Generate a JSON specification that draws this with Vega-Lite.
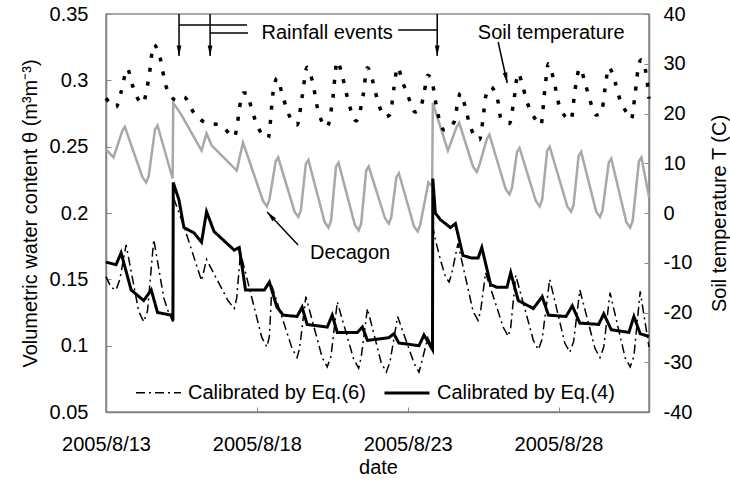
{
  "$schema": "https://vega.github.io/schema/vega-lite/v6.json",
  "width": 543,
  "height": 398,
  "autosize": {"type": "none"},
  "padding": {"left": 106, "top": 14, "right": 81, "bottom": 68},
  "config": {
    "view": {"stroke": "#8c8c8c", "strokeWidth": 1.5},
    "font": "Liberation Sans",
    "axis": {
      "labelFont": "Liberation Sans", "titleFont": "Liberation Sans",
      "labelFontSize": 20, "titleFontSize": 20, "titleFontWeight": "normal",
      "labelColor": "black", "titleColor": "black", "grid": false,
      "tickSize": -5, "tickColor": "#888", "domainColor": "#808080", "domainWidth": 1.5,
      "labelFlush": false, "labelOverlap": false
    }
  },
  "datasets": {
    "sm": [
      {"s":"Decagon","t":"2005-08-13T00:00","v":0.248},
      {"s":"Decagon","t":"2005-08-13T06:00","v":0.242},
      {"s":"Decagon","t":"2005-08-13T13:00","v":0.262},
      {"s":"Decagon","t":"2005-08-13T15:00","v":0.265},
      {"s":"Decagon","t":"2005-08-14T05:00","v":0.227},
      {"s":"Decagon","t":"2005-08-14T08:00","v":0.223},
      {"s":"Decagon","t":"2005-08-14T10:00","v":0.228},
      {"s":"Decagon","t":"2005-08-14T15:00","v":0.263},
      {"s":"Decagon","t":"2005-08-14T17:00","v":0.266},
      {"s":"Decagon","t":"2005-08-15T05:00","v":0.226},
      {"s":"Decagon","t":"2005-08-15T05:30","v":0.283},
      {"s":"Decagon","t":"2005-08-15T12:00","v":0.274},
      {"s":"Decagon","t":"2005-08-16T04:00","v":0.247},
      {"s":"Decagon","t":"2005-08-16T08:00","v":0.260},
      {"s":"Decagon","t":"2005-08-16T12:00","v":0.251},
      {"s":"Decagon","t":"2005-08-17T08:00","v":0.232},
      {"s":"Decagon","t":"2005-08-17T13:00","v":0.253},
      {"s":"Decagon","t":"2005-08-18T05:00","v":0.209},
      {"s":"Decagon","t":"2005-08-18T08:00","v":0.205},
      {"s":"Decagon","t":"2005-08-18T10:00","v":0.210},
      {"s":"Decagon","t":"2005-08-18T15:00","v":0.239},
      {"s":"Decagon","t":"2005-08-18T17:00","v":0.242},
      {"s":"Decagon","t":"2005-08-19T06:00","v":0.201},
      {"s":"Decagon","t":"2005-08-19T09:00","v":0.197},
      {"s":"Decagon","t":"2005-08-19T11:00","v":0.202},
      {"s":"Decagon","t":"2005-08-19T15:00","v":0.237},
      {"s":"Decagon","t":"2005-08-19T17:00","v":0.240},
      {"s":"Decagon","t":"2005-08-20T06:00","v":0.193},
      {"s":"Decagon","t":"2005-08-20T09:00","v":0.189},
      {"s":"Decagon","t":"2005-08-20T11:00","v":0.194},
      {"s":"Decagon","t":"2005-08-20T15:00","v":0.235},
      {"s":"Decagon","t":"2005-08-20T17:00","v":0.238},
      {"s":"Decagon","t":"2005-08-21T06:00","v":0.191},
      {"s":"Decagon","t":"2005-08-21T09:00","v":0.187},
      {"s":"Decagon","t":"2005-08-21T11:00","v":0.192},
      {"s":"Decagon","t":"2005-08-21T15:00","v":0.232},
      {"s":"Decagon","t":"2005-08-21T17:00","v":0.235},
      {"s":"Decagon","t":"2005-08-22T06:00","v":0.196},
      {"s":"Decagon","t":"2005-08-22T09:00","v":0.192},
      {"s":"Decagon","t":"2005-08-22T11:00","v":0.197},
      {"s":"Decagon","t":"2005-08-22T15:00","v":0.227},
      {"s":"Decagon","t":"2005-08-22T17:00","v":0.230},
      {"s":"Decagon","t":"2005-08-23T05:00","v":0.190},
      {"s":"Decagon","t":"2005-08-23T08:00","v":0.186},
      {"s":"Decagon","t":"2005-08-23T10:00","v":0.191},
      {"s":"Decagon","t":"2005-08-23T16:30","v":0.223},
      {"s":"Decagon","t":"2005-08-23T19:30","v":0.220},
      {"s":"Decagon","t":"2005-08-23T20:00","v":0.283},
      {"s":"Decagon","t":"2005-08-24T08:00","v":0.247},
      {"s":"Decagon","t":"2005-08-24T15:00","v":0.265},
      {"s":"Decagon","t":"2005-08-24T17:00","v":0.268},
      {"s":"Decagon","t":"2005-08-25T04:00","v":0.235},
      {"s":"Decagon","t":"2005-08-25T07:00","v":0.231},
      {"s":"Decagon","t":"2005-08-25T09:00","v":0.236},
      {"s":"Decagon","t":"2005-08-25T15:00","v":0.256},
      {"s":"Decagon","t":"2005-08-25T17:00","v":0.259},
      {"s":"Decagon","t":"2005-08-26T06:00","v":0.218},
      {"s":"Decagon","t":"2005-08-26T09:00","v":0.214},
      {"s":"Decagon","t":"2005-08-26T11:00","v":0.219},
      {"s":"Decagon","t":"2005-08-26T15:00","v":0.246},
      {"s":"Decagon","t":"2005-08-26T17:00","v":0.249},
      {"s":"Decagon","t":"2005-08-27T06:00","v":0.209},
      {"s":"Decagon","t":"2005-08-27T09:00","v":0.205},
      {"s":"Decagon","t":"2005-08-27T11:00","v":0.210},
      {"s":"Decagon","t":"2005-08-27T15:00","v":0.247},
      {"s":"Decagon","t":"2005-08-27T17:00","v":0.250},
      {"s":"Decagon","t":"2005-08-28T07:00","v":0.205},
      {"s":"Decagon","t":"2005-08-28T10:00","v":0.201},
      {"s":"Decagon","t":"2005-08-28T12:00","v":0.206},
      {"s":"Decagon","t":"2005-08-28T16:00","v":0.243},
      {"s":"Decagon","t":"2005-08-28T18:00","v":0.246},
      {"s":"Decagon","t":"2005-08-29T06:00","v":0.201},
      {"s":"Decagon","t":"2005-08-29T09:00","v":0.197},
      {"s":"Decagon","t":"2005-08-29T11:00","v":0.202},
      {"s":"Decagon","t":"2005-08-29T16:00","v":0.238},
      {"s":"Decagon","t":"2005-08-29T18:00","v":0.241},
      {"s":"Decagon","t":"2005-08-30T06:00","v":0.193},
      {"s":"Decagon","t":"2005-08-30T09:00","v":0.189},
      {"s":"Decagon","t":"2005-08-30T11:00","v":0.194},
      {"s":"Decagon","t":"2005-08-30T16:00","v":0.239},
      {"s":"Decagon","t":"2005-08-30T18:00","v":0.242},
      {"s":"Decagon","t":"2005-08-31T00:00","v":0.212},

      {"s":"Calibrated by Eq.(6)","t":"2005-08-13T00:00","v":0.152},
      {"s":"Calibrated by Eq.(6)","t":"2005-08-13T04:00","v":0.144},
      {"s":"Calibrated by Eq.(6)","t":"2005-08-13T08:00","v":0.142},
      {"s":"Calibrated by Eq.(6)","t":"2005-08-13T11:00","v":0.150},
      {"s":"Calibrated by Eq.(6)","t":"2005-08-13T16:00","v":0.176},
      {"s":"Calibrated by Eq.(6)","t":"2005-08-14T02:00","v":0.126},
      {"s":"Calibrated by Eq.(6)","t":"2005-08-14T06:00","v":0.118},
      {"s":"Calibrated by Eq.(6)","t":"2005-08-14T09:00","v":0.126},
      {"s":"Calibrated by Eq.(6)","t":"2005-08-14T14:00","v":0.180},
      {"s":"Calibrated by Eq.(6)","t":"2005-08-14T22:00","v":0.136},
      {"s":"Calibrated by Eq.(6)","t":"2005-08-15T01:00","v":0.127},
      {"s":"Calibrated by Eq.(6)","t":"2005-08-15T05:15","v":0.118},
      {"s":"Calibrated by Eq.(6)","t":"2005-08-15T05:30","v":0.212},
      {"s":"Calibrated by Eq.(6)","t":"2005-08-15T14:00","v":0.190},
      {"s":"Calibrated by Eq.(6)","t":"2005-08-16T04:00","v":0.149},
      {"s":"Calibrated by Eq.(6)","t":"2005-08-16T08:00","v":0.165},
      {"s":"Calibrated by Eq.(6)","t":"2005-08-17T01:00","v":0.134},
      {"s":"Calibrated by Eq.(6)","t":"2005-08-17T06:00","v":0.128},
      {"s":"Calibrated by Eq.(6)","t":"2005-08-17T08:00","v":0.136},
      {"s":"Calibrated by Eq.(6)","t":"2005-08-17T11:00","v":0.170},
      {"s":"Calibrated by Eq.(6)","t":"2005-08-18T04:00","v":0.106},
      {"s":"Calibrated by Eq.(6)","t":"2005-08-18T08:00","v":0.099},
      {"s":"Calibrated by Eq.(6)","t":"2005-08-18T10:00","v":0.107},
      {"s":"Calibrated by Eq.(6)","t":"2005-08-18T12:00","v":0.145},
      {"s":"Calibrated by Eq.(6)","t":"2005-08-19T04:00","v":0.098},
      {"s":"Calibrated by Eq.(6)","t":"2005-08-19T08:00","v":0.091},
      {"s":"Calibrated by Eq.(6)","t":"2005-08-19T10:00","v":0.098},
      {"s":"Calibrated by Eq.(6)","t":"2005-08-19T15:00","v":0.137},
      {"s":"Calibrated by Eq.(6)","t":"2005-08-20T04:00","v":0.091},
      {"s":"Calibrated by Eq.(6)","t":"2005-08-20T08:00","v":0.084},
      {"s":"Calibrated by Eq.(6)","t":"2005-08-20T11:00","v":0.092},
      {"s":"Calibrated by Eq.(6)","t":"2005-08-20T16:00","v":0.133},
      {"s":"Calibrated by Eq.(6)","t":"2005-08-21T05:00","v":0.090},
      {"s":"Calibrated by Eq.(6)","t":"2005-08-21T09:00","v":0.083},
      {"s":"Calibrated by Eq.(6)","t":"2005-08-21T11:00","v":0.091},
      {"s":"Calibrated by Eq.(6)","t":"2005-08-21T16:00","v":0.128},
      {"s":"Calibrated by Eq.(6)","t":"2005-08-22T03:00","v":0.087},
      {"s":"Calibrated by Eq.(6)","t":"2005-08-22T07:00","v":0.080},
      {"s":"Calibrated by Eq.(6)","t":"2005-08-22T10:00","v":0.088},
      {"s":"Calibrated by Eq.(6)","t":"2005-08-22T16:00","v":0.122},
      {"s":"Calibrated by Eq.(6)","t":"2005-08-23T05:00","v":0.087},
      {"s":"Calibrated by Eq.(6)","t":"2005-08-23T09:00","v":0.080},
      {"s":"Calibrated by Eq.(6)","t":"2005-08-23T11:00","v":0.087},
      {"s":"Calibrated by Eq.(6)","t":"2005-08-23T16:00","v":0.106},
      {"s":"Calibrated by Eq.(6)","t":"2005-08-23T19:45","v":0.098},
      {"s":"Calibrated by Eq.(6)","t":"2005-08-23T20:00","v":0.190},
      {"s":"Calibrated by Eq.(6)","t":"2005-08-23T22:00","v":0.180},
      {"s":"Calibrated by Eq.(6)","t":"2005-08-24T02:00","v":0.165},
      {"s":"Calibrated by Eq.(6)","t":"2005-08-24T06:00","v":0.152},
      {"s":"Calibrated by Eq.(6)","t":"2005-08-24T09:00","v":0.148},
      {"s":"Calibrated by Eq.(6)","t":"2005-08-24T11:00","v":0.154},
      {"s":"Calibrated by Eq.(6)","t":"2005-08-24T16:00","v":0.177},
      {"s":"Calibrated by Eq.(6)","t":"2005-08-25T04:00","v":0.126},
      {"s":"Calibrated by Eq.(6)","t":"2005-08-25T08:00","v":0.119},
      {"s":"Calibrated by Eq.(6)","t":"2005-08-25T10:00","v":0.126},
      {"s":"Calibrated by Eq.(6)","t":"2005-08-25T14:00","v":0.155},
      {"s":"Calibrated by Eq.(6)","t":"2005-08-26T04:00","v":0.114},
      {"s":"Calibrated by Eq.(6)","t":"2005-08-26T08:00","v":0.107},
      {"s":"Calibrated by Eq.(6)","t":"2005-08-26T10:00","v":0.114},
      {"s":"Calibrated by Eq.(6)","t":"2005-08-26T14:00","v":0.153},
      {"s":"Calibrated by Eq.(6)","t":"2005-08-27T04:00","v":0.104},
      {"s":"Calibrated by Eq.(6)","t":"2005-08-27T08:00","v":0.097},
      {"s":"Calibrated by Eq.(6)","t":"2005-08-27T11:00","v":0.105},
      {"s":"Calibrated by Eq.(6)","t":"2005-08-27T17:00","v":0.150},
      {"s":"Calibrated by Eq.(6)","t":"2005-08-28T05:00","v":0.102},
      {"s":"Calibrated by Eq.(6)","t":"2005-08-28T09:00","v":0.095},
      {"s":"Calibrated by Eq.(6)","t":"2005-08-28T12:00","v":0.103},
      {"s":"Calibrated by Eq.(6)","t":"2005-08-28T17:00","v":0.142},
      {"s":"Calibrated by Eq.(6)","t":"2005-08-29T05:00","v":0.098},
      {"s":"Calibrated by Eq.(6)","t":"2005-08-29T09:00","v":0.091},
      {"s":"Calibrated by Eq.(6)","t":"2005-08-29T12:00","v":0.099},
      {"s":"Calibrated by Eq.(6)","t":"2005-08-29T17:00","v":0.140},
      {"s":"Calibrated by Eq.(6)","t":"2005-08-30T05:00","v":0.091},
      {"s":"Calibrated by Eq.(6)","t":"2005-08-30T09:00","v":0.084},
      {"s":"Calibrated by Eq.(6)","t":"2005-08-30T12:00","v":0.092},
      {"s":"Calibrated by Eq.(6)","t":"2005-08-30T17:00","v":0.141},
      {"s":"Calibrated by Eq.(6)","t":"2005-08-31T00:00","v":0.099},

      {"s":"Calibrated by Eq.(4)","t":"2005-08-13T00:00","v":0.163},
      {"s":"Calibrated by Eq.(4)","t":"2005-08-13T08:00","v":0.161},
      {"s":"Calibrated by Eq.(4)","t":"2005-08-13T12:00","v":0.170},
      {"s":"Calibrated by Eq.(4)","t":"2005-08-13T20:00","v":0.142},
      {"s":"Calibrated by Eq.(4)","t":"2005-08-14T06:00","v":0.134},
      {"s":"Calibrated by Eq.(4)","t":"2005-08-14T12:00","v":0.142},
      {"s":"Calibrated by Eq.(4)","t":"2005-08-14T17:00","v":0.125},
      {"s":"Calibrated by Eq.(4)","t":"2005-08-15T04:00","v":0.123},
      {"s":"Calibrated by Eq.(4)","t":"2005-08-15T05:15","v":0.119},
      {"s":"Calibrated by Eq.(4)","t":"2005-08-15T05:30","v":0.223},
      {"s":"Calibrated by Eq.(4)","t":"2005-08-15T10:00","v":0.210},
      {"s":"Calibrated by Eq.(4)","t":"2005-08-15T14:00","v":0.189},
      {"s":"Calibrated by Eq.(4)","t":"2005-08-15T22:00","v":0.185},
      {"s":"Calibrated by Eq.(4)","t":"2005-08-16T04:00","v":0.178},
      {"s":"Calibrated by Eq.(4)","t":"2005-08-16T08:00","v":0.201},
      {"s":"Calibrated by Eq.(4)","t":"2005-08-16T14:00","v":0.186},
      {"s":"Calibrated by Eq.(4)","t":"2005-08-17T06:00","v":0.172},
      {"s":"Calibrated by Eq.(4)","t":"2005-08-17T10:00","v":0.174},
      {"s":"Calibrated by Eq.(4)","t":"2005-08-17T15:00","v":0.142},
      {"s":"Calibrated by Eq.(4)","t":"2005-08-18T06:00","v":0.142},
      {"s":"Calibrated by Eq.(4)","t":"2005-08-18T10:00","v":0.148},
      {"s":"Calibrated by Eq.(4)","t":"2005-08-18T16:00","v":0.129},
      {"s":"Calibrated by Eq.(4)","t":"2005-08-18T21:00","v":0.123},
      {"s":"Calibrated by Eq.(4)","t":"2005-08-19T08:00","v":0.122},
      {"s":"Calibrated by Eq.(4)","t":"2005-08-19T12:00","v":0.129},
      {"s":"Calibrated by Eq.(4)","t":"2005-08-19T16:00","v":0.116},
      {"s":"Calibrated by Eq.(4)","t":"2005-08-20T08:00","v":0.114},
      {"s":"Calibrated by Eq.(4)","t":"2005-08-20T12:00","v":0.123},
      {"s":"Calibrated by Eq.(4)","t":"2005-08-20T16:00","v":0.110},
      {"s":"Calibrated by Eq.(4)","t":"2005-08-21T08:00","v":0.110},
      {"s":"Calibrated by Eq.(4)","t":"2005-08-21T12:00","v":0.114},
      {"s":"Calibrated by Eq.(4)","t":"2005-08-21T16:00","v":0.104},
      {"s":"Calibrated by Eq.(4)","t":"2005-08-22T09:00","v":0.106},
      {"s":"Calibrated by Eq.(4)","t":"2005-08-22T13:00","v":0.109},
      {"s":"Calibrated by Eq.(4)","t":"2005-08-22T17:00","v":0.102},
      {"s":"Calibrated by Eq.(4)","t":"2005-08-23T09:00","v":0.100},
      {"s":"Calibrated by Eq.(4)","t":"2005-08-23T13:00","v":0.108},
      {"s":"Calibrated by Eq.(4)","t":"2005-08-23T19:45","v":0.097},
      {"s":"Calibrated by Eq.(4)","t":"2005-08-23T20:00","v":0.226},
      {"s":"Calibrated by Eq.(4)","t":"2005-08-23T22:00","v":0.200},
      {"s":"Calibrated by Eq.(4)","t":"2005-08-24T02:00","v":0.195},
      {"s":"Calibrated by Eq.(4)","t":"2005-08-24T10:00","v":0.189},
      {"s":"Calibrated by Eq.(4)","t":"2005-08-24T14:00","v":0.192},
      {"s":"Calibrated by Eq.(4)","t":"2005-08-24T20:00","v":0.168},
      {"s":"Calibrated by Eq.(4)","t":"2005-08-25T03:00","v":0.166},
      {"s":"Calibrated by Eq.(4)","t":"2005-08-25T08:00","v":0.166},
      {"s":"Calibrated by Eq.(4)","t":"2005-08-25T11:00","v":0.174},
      {"s":"Calibrated by Eq.(4)","t":"2005-08-25T18:00","v":0.146},
      {"s":"Calibrated by Eq.(4)","t":"2005-08-25T23:00","v":0.144},
      {"s":"Calibrated by Eq.(4)","t":"2005-08-26T07:00","v":0.144},
      {"s":"Calibrated by Eq.(4)","t":"2005-08-26T10:00","v":0.155},
      {"s":"Calibrated by Eq.(4)","t":"2005-08-26T16:00","v":0.134},
      {"s":"Calibrated by Eq.(4)","t":"2005-08-27T04:00","v":0.128},
      {"s":"Calibrated by Eq.(4)","t":"2005-08-27T11:00","v":0.137},
      {"s":"Calibrated by Eq.(4)","t":"2005-08-27T16:00","v":0.123},
      {"s":"Calibrated by Eq.(4)","t":"2005-08-28T06:00","v":0.122},
      {"s":"Calibrated by Eq.(4)","t":"2005-08-28T11:00","v":0.130},
      {"s":"Calibrated by Eq.(4)","t":"2005-08-28T17:00","v":0.117},
      {"s":"Calibrated by Eq.(4)","t":"2005-08-29T08:00","v":0.116},
      {"s":"Calibrated by Eq.(4)","t":"2005-08-29T12:00","v":0.124},
      {"s":"Calibrated by Eq.(4)","t":"2005-08-29T18:00","v":0.112},
      {"s":"Calibrated by Eq.(4)","t":"2005-08-30T08:00","v":0.110},
      {"s":"Calibrated by Eq.(4)","t":"2005-08-30T12:00","v":0.122},
      {"s":"Calibrated by Eq.(4)","t":"2005-08-30T17:00","v":0.109},
      {"s":"Calibrated by Eq.(4)","t":"2005-08-31T00:00","v":0.107}
    ],
    "temp": [
      {"t":"2005-08-13T00:00","T":23.1},{"t":"2005-08-13T08:00","T":21.3},{"t":"2005-08-13T12:00","T":24.3},
      {"t":"2005-08-13T17:00","T":29.0},{"t":"2005-08-13T21:00","T":25.7},{"t":"2005-08-14T05:00","T":22.0},
      {"t":"2005-08-14T10:00","T":27.0},{"t":"2005-08-14T14:00","T":33.8},{"t":"2005-08-14T18:00","T":32.2},
      {"t":"2005-08-15T00:00","T":25.3},{"t":"2005-08-15T08:00","T":22.7},{"t":"2005-08-15T14:00","T":23.3},
      {"t":"2005-08-15T22:00","T":20.1},{"t":"2005-08-16T08:00","T":18.1},{"t":"2005-08-16T19:00","T":17.7},
      {"t":"2005-08-17T06:00","T":15.3},{"t":"2005-08-17T13:00","T":24.1},{"t":"2005-08-17T16:00","T":24.1},
      {"t":"2005-08-17T20:00","T":20.7},{"t":"2005-08-18T02:00","T":16.7},{"t":"2005-08-18T09:00","T":15.1},
      {"t":"2005-08-18T13:00","T":24.3},{"t":"2005-08-18T16:00","T":27.1},{"t":"2005-08-18T20:00","T":24.1},
      {"t":"2005-08-19T00:00","T":20.7},{"t":"2005-08-19T08:00","T":17.7},{"t":"2005-08-19T12:00","T":23.3},
      {"t":"2005-08-19T16:00","T":29.3},{"t":"2005-08-19T20:00","T":26.7},{"t":"2005-08-20T01:00","T":20.3},
      {"t":"2005-08-20T08:00","T":17.3},{"t":"2005-08-20T12:00","T":22.1},{"t":"2005-08-20T16:00","T":30.5},
      {"t":"2005-08-20T20:00","T":27.5},{"t":"2005-08-21T02:00","T":21.3},{"t":"2005-08-21T07:00","T":18.5},
      {"t":"2005-08-21T12:00","T":22.7},{"t":"2005-08-21T16:00","T":29.2},{"t":"2005-08-21T20:00","T":26.7},
      {"t":"2005-08-22T00:00","T":22.7},{"t":"2005-08-22T06:00","T":19.3},{"t":"2005-08-22T10:00","T":19.8},
      {"t":"2005-08-22T13:00","T":25.0},{"t":"2005-08-22T16:00","T":29.3},{"t":"2005-08-22T20:00","T":26.3},
      {"t":"2005-08-23T00:00","T":23.7},{"t":"2005-08-23T06:00","T":20.3},{"t":"2005-08-23T10:00","T":21.0},
      {"t":"2005-08-23T13:00","T":24.0},{"t":"2005-08-23T16:00","T":27.7},{"t":"2005-08-23T20:00","T":25.7},
      {"t":"2005-08-23T22:00","T":22.7},{"t":"2005-08-24T00:00","T":20.0},{"t":"2005-08-24T05:00","T":16.7},
      {"t":"2005-08-24T13:00","T":18.3},{"t":"2005-08-24T16:00","T":22.5},{"t":"2005-08-24T18:00","T":24.1},
      {"t":"2005-08-24T22:00","T":21.1},{"t":"2005-08-25T01:00","T":18.1},{"t":"2005-08-25T09:00","T":14.7},
      {"t":"2005-08-25T12:00","T":19.0},{"t":"2005-08-25T14:00","T":23.3},{"t":"2005-08-25T18:00","T":25.3},
      {"t":"2005-08-26T00:00","T":22.3},{"t":"2005-08-26T02:00","T":19.1},{"t":"2005-08-26T09:00","T":18.0},
      {"t":"2005-08-26T12:00","T":21.7},{"t":"2005-08-26T16:00","T":28.1},{"t":"2005-08-26T19:00","T":26.0},
      {"t":"2005-08-26T23:00","T":22.3},{"t":"2005-08-27T05:00","T":19.1},{"t":"2005-08-27T10:00","T":17.7},
      {"t":"2005-08-27T13:00","T":24.5},{"t":"2005-08-27T16:00","T":30.0},{"t":"2005-08-27T20:00","T":27.0},
      {"t":"2005-08-28T01:00","T":21.3},{"t":"2005-08-28T10:00","T":18.7},{"t":"2005-08-28T13:00","T":24.5},
      {"t":"2005-08-28T17:00","T":29.1},{"t":"2005-08-28T21:00","T":26.3},{"t":"2005-08-29T01:00","T":22.7},
      {"t":"2005-08-29T06:00","T":19.7},{"t":"2005-08-29T10:00","T":20.0},{"t":"2005-08-29T13:00","T":25.0},
      {"t":"2005-08-29T16:00","T":29.3},{"t":"2005-08-29T21:00","T":26.3},{"t":"2005-08-30T01:00","T":22.7},
      {"t":"2005-08-30T06:00","T":20.3},{"t":"2005-08-30T10:00","T":18.9},{"t":"2005-08-30T13:00","T":24.0},
      {"t":"2005-08-30T16:00","T":30.0},{"t":"2005-08-30T18:00","T":30.8},{"t":"2005-08-30T22:00","T":27.5},
      {"t":"2005-08-31T00:00","T":23.0}
    ],
    "ann": [
      {"t":"2005-08-15T10:06","t2":"2005-08-15T10:06","v":0.35,"v2":0.3183},
      {"t":"2005-08-16T10:48","t2":"2005-08-16T10:48","v":0.35,"v2":0.3183},
      {"t":"2005-08-23T23:30","t2":"2005-08-23T23:30","v":0.35,"v2":0.3183},
      {"t":"2005-08-15T10:06","t2":"2005-08-17T16:12","v":0.3417,"v2":0.3417},
      {"t":"2005-08-16T10:48","t2":"2005-08-17T17:00","v":0.3357,"v2":0.3357},
      {"t":"2005-08-22T16:24","t2":"2005-08-23T23:30","v":0.3379,"v2":0.3379},
      {"t":"2005-08-19T08:48","t2":"2005-08-18T08:12","v":0.1759,"v2":0.2008},
      {"t":"2005-08-26T00:00","t2":"2005-08-26T07:12","v":0.3289,"v2":0.298}
    ],
    "heads": [
      {"k":"rain","t":"2005-08-15T10:06","v":0.3183},
      {"k":"rain","t":"2005-08-16T10:48","v":0.3183},
      {"k":"rain","t":"2005-08-23T23:30","v":0.3183},
      {"k":"decagon","t":"2005-08-18T08:12","v":0.2008},
      {"k":"soil","t":"2005-08-26T07:12","v":0.298}
    ],
    "labels": [
      {"t":"2005-08-20T07:54","v":0.3357,"label":"Rainfall events"},
      {"t":"2005-08-21T02:12","v":0.1699,"label":"Decagon"},
      {"t":"2005-08-27T18:12","v":0.3357,"label":"Soil temperature"}
    ]
  },
  "encoding": {
    "x": {
      "field": "t", "type": "temporal",
      "scale": {"domain": [{"year":2005,"month":8,"date":13},{"year":2005,"month":8,"date":31}]},
      "axis": {
        "values": [{"year":2005,"month":8,"date":13},{"year":2005,"month":8,"date":18},{"year":2005,"month":8,"date":23},{"year":2005,"month":8,"date":28}],
        "format": "%Y/%-m/%-d", "title": "date", "labelPadding": 27,
        "titleX": 272, "titleY": 55, "titleAlign": "center", "titleBaseline": "middle"
      }
    }
  },
  "layer": [
    {
      "encoding": {
        "y": {
          "field": "v", "type": "quantitative",
          "scale": {"domain": [0.05, 0.35], "nice": false, "zero": false},
          "axis": {
            "values": [0.05,0.1,0.15,0.2,0.25,0.3,0.35], "format": "~g", "labelPadding": 23,
            "title": "Volumetric water content θ (m³m⁻³)", "titleAngle": -90,
            "titleX": -76, "titleY": 199, "titleAlign": "center", "titleBaseline": "middle"
          }
        }
      },
      "layer": [
        {
          "data": {"name": "sm"},
          "transform": [{"filter": "datum.s === 'Decagon'"}],
          "mark": {"type": "line", "color": "#a8a8a8", "strokeWidth": 2.5},
          "encoding": {}
        },
        {
          "data": {"name": "sm"},
          "transform": [{"filter": "datum.s !== 'Decagon'"}],
          "mark": {"type": "line", "color": "black", "strokeCap": "butt"},
          "encoding": {
            "strokeDash": {
              "field": "s", "type": "nominal",
              "scale": {"domain": ["Calibrated by Eq.(6)","Calibrated by Eq.(4)"], "range": [[9,4,2,4],[1,0]]},
              "legend": {"orient": "none", "legendX": 29, "legendY": 355, "direction": "horizontal", "title": null,
                "symbolType": "stroke", "symbolSize": 2025, "symbolStrokeColor": "black", "labelLimit": 0,
                "labelFontSize": 20, "labelFont": "Liberation Sans", "labelOffset": 6, "columnPadding": 12, "padding": 0}
            },
            "strokeWidth": {
              "field": "s", "type": "nominal",
              "scale": {"domain": ["Calibrated by Eq.(6)","Calibrated by Eq.(4)"], "range": [1.5, 3]},
              "legend": {"orient": "none", "legendX": 29, "legendY": 355, "direction": "horizontal", "title": null,
                "symbolType": "stroke", "symbolSize": 2025, "symbolStrokeColor": "black", "labelLimit": 0,
                "labelFontSize": 20, "labelFont": "Liberation Sans", "labelOffset": 6, "columnPadding": 12, "padding": 0}
            }
          }
        },
        {
          "data": {"name": "ann"},
          "mark": {"type": "rule", "color": "black", "strokeWidth": 1.5},
          "encoding": {"x2": {"field": "t2"}, "y2": {"field": "v2"}}
        },
        {
          "data": {"name": "heads"},
          "transform": [{"filter": "datum.k === 'rain'"}],
          "mark": {"type": "point", "shape": "M-0.45,-2L0.45,-2L0,0Z", "filled": true, "color": "black", "opacity": 1, "size": 110, "angle": 0},
          "encoding": {}
        },
        {
          "data": {"name": "heads"},
          "transform": [{"filter": "datum.k === 'decagon'"}],
          "mark": {"type": "point", "shape": "M-0.45,-2L0.45,-2L0,0Z", "filled": true, "color": "black", "opacity": 1, "size": 110, "angle": 138},
          "encoding": {}
        },
        {
          "data": {"name": "heads"},
          "transform": [{"filter": "datum.k === 'soil'"}],
          "mark": {"type": "point", "shape": "M-0.45,-2L0.45,-2L0,0Z", "filled": true, "color": "black", "opacity": 1, "size": 110, "angle": 348},
          "encoding": {}
        },
        {
          "data": {"name": "labels"},
          "mark": {"type": "text", "font": "Liberation Sans", "fontSize": 20, "align": "center", "baseline": "middle", "color": "black"},
          "encoding": {"text": {"field": "label"}}
        }
      ]
    },
    {
      "data": {"name": "temp"},
      "mark": {"type": "line", "color": "black", "strokeWidth": 3.5, "strokeDash": [4, 10], "strokeCap": "butt", "interpolate": "monotone"},
      "encoding": {
        "y": {
          "field": "T", "type": "quantitative",
          "scale": {"domain": [-40, 40], "nice": false, "zero": false},
          "axis": {
            "orient": "right", "values": [-40,-30,-20,-10,0,10,20,30,40], "labelExpr": "'' + datum.value",
            "labelPadding": 19, "title": "Soil temperature T (C)", "titleAngle": -90,
            "titleX": 70, "titleY": 199, "titleAlign": "center", "titleBaseline": "middle"
          }
        }
      }
    }
  ],
  "resolve": {"scale": {"y": "independent"}}
}
